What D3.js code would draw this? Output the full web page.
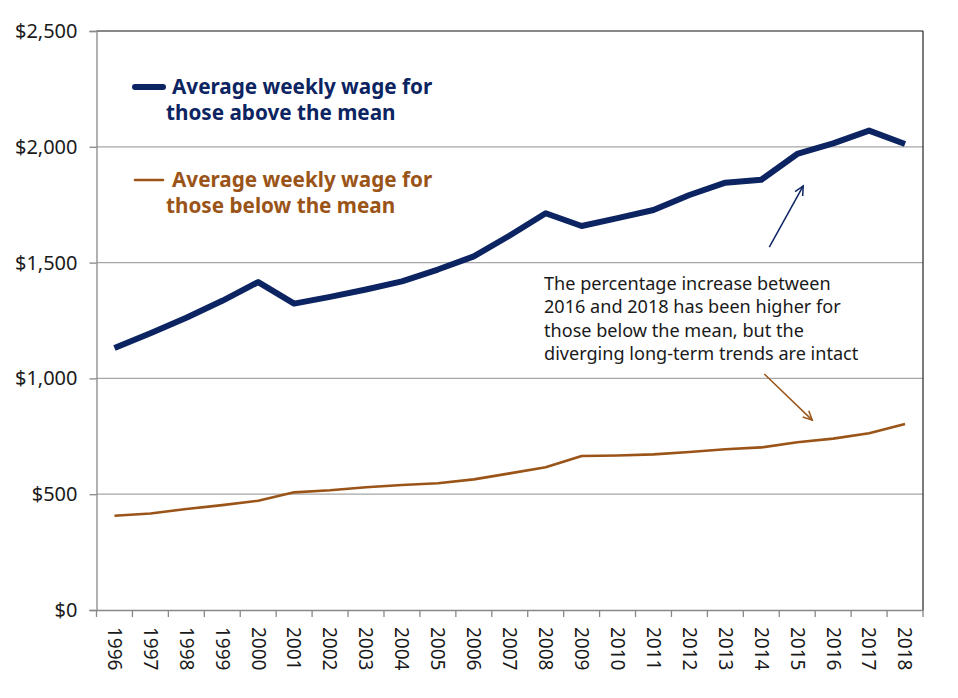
<!DOCTYPE html>
<html>
<head>
<meta charset="utf-8">
<script src="https://cdn.jsdelivr.net/npm/d3@7"></script>
<style>
  body { margin: 0; background: #fff; }
  svg { display: block; font-family: "Noto Sans", "Open Sans", sans-serif; }
</style>
</head>
<body>
<div id="chart"></div>
<script>
// data
const years = ["1996","1997","1998","1999","2000","2001","2002","2003","2004","2005","2006","2007",
               "2008","2009","2010","2011","2012","2013","2014","2015","2016","2017","2018"]
const aboveMean = [1131,1195,1262,1335,1416,1323,1352,1384,1419,1470,1527,1617,
                   1713,1658,1692,1727,1792,1845,1858,1969,2015,2070,2012]
const belowMean = [407,417,436,453,472,508,517,530,540,547,564,590,
                   616,665,667,672,682,694,702,724,740,763,803]
const yTicks = [0,500,1000,1500,2000,2500]

const navy = "#0c2461"
const brown = "#9a5418"

const width = 958, height = 698
const plot = {left: 96.5, right: 923, top: 31, bottom: 610}

function translate(x,y){return `translate(${x}, ${y})`}

const svg = d3.select("#chart").append("svg").attr("width", width).attr("height", height)

const x = d3.scaleBand().domain(years).range([plot.left, plot.right]).padding(0)
const y = d3.scaleLinear().domain([0, 2500]).range([plot.bottom, plot.top])
const cx = d => x(d) + x.bandwidth()/2

// gridlines
svg.append("g").selectAll("line").data(yTicks.filter(v => v > 0)).join("line")
    .attr("x1", plot.left).attr("x2", plot.right)
    .attr("y1", d => y(d)).attr("y2", d => y(d))
    .attr("stroke", d => d == 2500 ? "#888" : "#a6a6a6")
    .attr("stroke-width", d => d == 2500 ? 2 : 1.3)

// right border
svg.append("line").attr("x1", plot.right).attr("x2", plot.right)
    .attr("y1", plot.top).attr("y2", plot.bottom)
    .attr("stroke", "#333").attr("stroke-width", 1.3)

// y axis
const yAxis = d3.axisLeft(y).tickValues(yTicks).tickSize(7).tickPadding(12).tickFormat(d3.format("$,"))
const yg = svg.append("g").attr("transform", translate(plot.left, 0)).call(yAxis)
yg.select(".domain").attr("stroke", "#888").attr("stroke-width", 1.3)
yg.selectAll(".tick line").attr("stroke", "#888").attr("stroke-width", 1.3)
yg.selectAll("text").attr("font-size", 20).attr("fill", "#1a1a1a").attr("font-family", "Noto Sans")

// x axis (labels at band centres, ticks on band edges)
const xAxis = d3.axisBottom(x).tickSize(0).tickPadding(0)
const xg = svg.append("g").attr("transform", translate(0, plot.bottom)).call(xAxis)
xg.select(".domain").attr("stroke", "#888").attr("stroke-width", 1.3)
xg.selectAll("text")
    .attr("font-size", 19).attr("fill", "#1a1a1a").attr("font-family", "Noto Sans")
    .attr("text-anchor", "start").attr("dy", "0.35em")
    .attr("transform", "translate(0,17) rotate(90)")
    .attr("y", 0).attr("x", 0)
svg.append("g").selectAll("line").data(d3.range(years.length + 1)).join("line")
    .attr("x1", i => plot.left + i * x.step()).attr("x2", i => plot.left + i * x.step())
    .attr("y1", plot.bottom).attr("y2", plot.bottom + 7)
    .attr("stroke", "#888").attr("stroke-width", 1.3)

// lines
const line = d3.line().x(d => cx(d[0])).y(d => y(d[1]))
svg.append("path").datum(d3.zip(years, belowMean)).attr("d", line)
    .attr("fill", "none").attr("stroke", brown).attr("stroke-width", 2.6).attr("stroke-linejoin", "round")
svg.append("path").datum(d3.zip(years, aboveMean)).attr("d", line)
    .attr("fill", "none").attr("stroke", navy).attr("stroke-width", 6).attr("stroke-linejoin", "round")

// legend
const legend = [
  {label: ["Average weekly wage for", "those above the mean"], color: navy, w: 6, y: 87},
  {label: ["Average weekly wage for", "those below the mean"], color: brown, w: 2.6, y: 180}
]
legend.forEach(l => {
  const g = svg.append("g")
  g.append("line").attr("x1", 135).attr("x2", 163).attr("y1", l.y).attr("y2", l.y)
    .attr("stroke", l.color).attr("stroke-width", l.w).attr("stroke-linecap", "round")
  const t = g.append("text").attr("fill", l.color).attr("font-weight", "bold").attr("font-size", 20.7)
  t.append("tspan").attr("x", 172).attr("y", l.y + 7).text(l.label[0])
  t.append("tspan").attr("x", 166).attr("y", l.y + 33).text(l.label[1])
})

// annotation
const note = ["The percentage increase between", "2016 and 2018 has been higher for",
              "those below the mean, but the", "diverging long-term trends are intact"]
svg.append("text").attr("font-size", 18.1).attr("fill", "#1a1a1a")
  .selectAll("tspan").data(note).join("tspan")
    .attr("x", 544).attr("y", (d, i) => 290 + i * 23.4).text(d => d)

function arrow(x1, y1, x2, y2, color) {
  svg.append("line").attr("x1", x1).attr("y1", y1).attr("x2", x2).attr("y2", y2)
    .attr("stroke", color).attr("stroke-width", 1.5)
  const a = Math.atan2(y2 - y1, x2 - x1), s = 10, spread = 0.45
  const p1 = [x2 - s * Math.cos(a - spread), y2 - s * Math.sin(a - spread)]
  const p2 = [x2 - s * Math.cos(a + spread), y2 - s * Math.sin(a + spread)]
  svg.append("path").attr("d", `M${p1}L${x2},${y2}L${p2}`)
    .attr("fill", "none").attr("stroke", color).attr("stroke-width", 1.5)
}
arrow(cx("2014") + 8, y(1567), cx("2015") + 6, y(1831), navy)
arrow(cx("2014") + 3, y(1019), cx("2015") + 15, y(820), brown)
</script>
</body>
</html>
